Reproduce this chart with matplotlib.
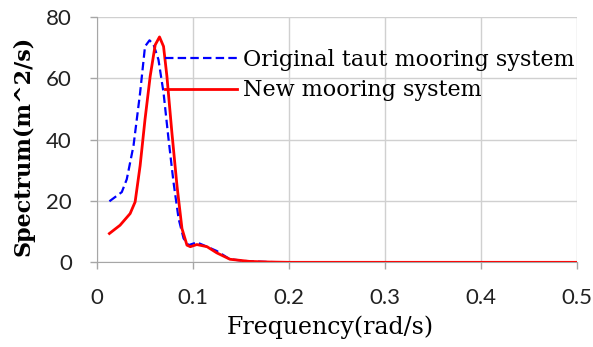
import matplotlib.pyplot as plt

# spectrum of the original taut mooring system
freq_orig = [0.0129, 0.0258, 0.031, 0.038, 0.0449, 0.050, 0.0547, 0.0589, 0.064,
             0.0693, 0.0745, 0.0797, 0.085, 0.0902, 0.0954, 0.104, 0.1146, 0.1247,
             0.1385, 0.159, 0.18, 0.2, 0.3, 0.4, 0.5]
spec_orig = [19.9, 22.9, 27.1, 38.0, 55.3, 70.4, 72.4, 71.0, 66.1,
             55.3, 40.2, 26.1, 14.2, 7.8, 5.6, 6.5, 5.1, 3.7,
             1.0, 0.3, 0.1, 0.0, 0.0, 0.0, 0.0]

# spectrum of the new mooring system
freq_new = [0.0129, 0.024, 0.0345, 0.0397, 0.0449, 0.050, 0.0554, 0.0606, 0.0651,
            0.0693, 0.0728, 0.078, 0.0833, 0.0885, 0.0937, 0.0972, 0.104, 0.1146,
            0.1247, 0.1385, 0.159, 0.18, 0.2, 0.3, 0.4, 0.5]
spec_new = [9.4, 12.1, 15.9, 19.7, 31.5, 46.6, 60.7, 70.9, 73.5,
            70.4, 60.7, 42.3, 25.0, 11.0, 5.6, 5.1, 5.8, 5.1,
            3.1, 1.0, 0.3, 0.1, 0.0, 0.0, 0.0, 0.0]

x_ticks = [0, 0.1, 0.2, 0.3, 0.4, 0.5]
y_ticks = [0, 20, 40, 60, 80]

serif = 'DejaVu Serif'
tick_font = 'Lato'

fig = plt.figure(figsize=(5.93, 3.47), dpi=100)
ax = fig.add_axes([0.1636, 0.244, 0.8094, 0.707])

ax.plot(freq_orig, spec_orig, color='#0000ff', linewidth=1.6, linestyle=(0, (3.8, 1.9)),
        label='Original taut mooring system')
ax.plot(freq_new, spec_new, color='#ff0000', linewidth=2.0, label='New mooring system')

ax.set_xlim(0, 0.5)
ax.set_ylim(0, 80)
ax.set_xticks(x_ticks)
ax.set_yticks(y_ticks)
ax.set_xticklabels([str(v) for v in x_ticks], fontfamily=tick_font, fontsize=16)
ax.set_yticklabels([str(v) for v in y_ticks], fontfamily=tick_font, fontsize=16)
ax.tick_params(axis='both', colors='#a6a6a6', labelcolor='#222222', length=5, width=1)
ax.tick_params(axis='x', direction='out', pad=13.5)
ax.tick_params(axis='y', direction='out', pad=13)

ax.grid(color='#d0d0d0', linewidth=1)
ax.set_axisbelow(True)
for s in ['top', 'right']:
    ax.spines[s].set_visible(False)
for s in ['left', 'bottom']:
    ax.spines[s].set_color('#a6a6a6')

ax.set_xlabel('Frequency(rad/s)', fontfamily=serif, fontsize=17)
ax.set_ylabel('Spectrum(m^2/s)', fontfamily=serif, fontsize=16, fontweight='bold')
ax.xaxis.set_label_coords(0.487, -0.215)
ax.yaxis.set_label_coords(-0.13, 0.475)

leg = ax.legend(loc='upper left', bbox_to_anchor=(0.141, 0.87), frameon=False,
                handlelength=3.25, handletextpad=0.27, labelspacing=0.38,
                prop={'family': serif, 'size': 16}, borderaxespad=0, borderpad=0)

fig.savefig('out.png', dpi=100)
